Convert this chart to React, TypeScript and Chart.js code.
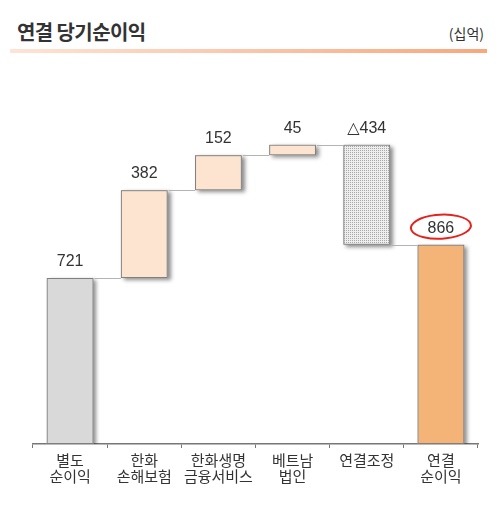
import React, { useEffect, useRef } from "react";
import { Chart, registerables } from "chart.js";

Chart.register(...registerables);

const categories: string[][] = [
  ["별도", "순이익"],
  ["한화", "손해보험"],
  ["한화생명", "금융서비스"],
  ["베트남", "법인"],
  ["연결조정"],
  ["연결", "순이익"],
];
const changes = [721, 382, 152, 45, -434, 866];
const isTotal = [false, false, false, false, false, true];
const valueLabels = ["721", "382", "152", "45", "△434", "866"];
const yMax = 1625;

function buildRanges(): [number, number][] {
  const out: [number, number][] = [];
  let running = 0;
  changes.forEach((c, i) => {
    if (isTotal[i]) {
      out.push([0, c]);
      running = c;
    } else {
      out.push([running, running + c]);
      running += c;
    }
  });
  return out;
}

export default function App() {
  const canvasRef = useRef<HTMLCanvasElement | null>(null);

  useEffect(() => {
    if (!canvasRef.current) return;
    const ranges = buildRanges();

    const pc = document.createElement("canvas");
    pc.width = 2;
    pc.height = 2;
    const pctx = pc.getContext("2d")!;
    pctx.fillStyle = "#eeeeee";
    pctx.fillRect(0, 0, 2, 2);
    pctx.fillStyle = "#a8a8a8";
    pctx.fillRect(0, 0, 1, 1);
    const pattern = canvasRef.current.getContext("2d")!.createPattern(pc, "repeat")!;

    const colors: (string | CanvasPattern)[] = [
      "#d9d9d9",
      "#fde4d0",
      "#fde4d0",
      "#fde4d0",
      pattern,
      "#f5b477",
    ];

    const waterfallPlugin = {
      id: "waterfall",
      beforeDatasetsDraw(chart: any) {
        const ctx = chart.ctx;
        const meta = chart.getDatasetMeta(0);
        const area = chart.chartArea;
        ctx.save();
        ctx.beginPath();
        ctx.rect(area.left, area.top - 50, area.right - area.left + 20, area.bottom - area.top + 50);
        ctx.clip();
        ctx.shadowColor = "rgba(0,0,0,0.45)";
        ctx.shadowBlur = 4;
        ctx.shadowOffsetX = 3;
        ctx.shadowOffsetY = 2;
        ctx.fillStyle = "#aaaaaa";
        meta.data.forEach((el: any) => {
          const top = Math.min(el.y, el.base);
          const h = Math.abs(el.base - el.y);
          ctx.fillRect(el.x - el.width / 2, top, el.width, h);
        });
        ctx.restore();
      },
      afterDatasetsDraw(chart: any) {
        const ctx = chart.ctx;
        const meta = chart.getDatasetMeta(0);
        const ys = chart.scales.y;
        ctx.save();
        ctx.strokeStyle = "#b3b3b3";
        ctx.lineWidth = 1;
        for (let i = 0; i < ranges.length - 1; i++) {
          const a = meta.data[i];
          const b = meta.data[i + 1];
          const py = Math.round(ys.getPixelForValue(ranges[i][1])) + 0.5;
          ctx.beginPath();
          ctx.moveTo(a.x + a.width / 2 + 1, py);
          ctx.lineTo(b.x - b.width / 2, py);
          ctx.stroke();
        }
        ctx.font = '16px "Liberation Sans", "DejaVu Sans", Arial, sans-serif';
        ctx.fillStyle = "#333333";
        ctx.textAlign = "center";
        ctx.textBaseline = "alphabetic";
        meta.data.forEach((el: any, i: number) => {
          const top = Math.min(el.y, el.base);
          ctx.fillText(valueLabels[i], el.x, top - 12);
          if (i === valueLabels.length - 1) {
            const cy = top - 18;
            ctx.strokeStyle = "#e5231d";
            ctx.lineWidth = 2;
            ctx.beginPath();
            ctx.ellipse(el.x, cy, 30, 12, -0.05, Math.PI * 0.7, Math.PI * 2.85);
            ctx.stroke();
          }
        });
        ctx.restore();
      },
    };

    const chart = new Chart(canvasRef.current, {
      type: "bar",
      data: {
        labels: categories,
        datasets: [
          {
            data: ranges as any,
            backgroundColor: colors as any,
            borderColor: "#7f7f7f",
            borderWidth: 1,
            borderSkipped: false,
            barPercentage: 0.63,
            categoryPercentage: 1,
          },
        ],
      },
      options: {
        animation: false,
        responsive: true,
        maintainAspectRatio: false,
        layout: { padding: { left: 33, right: 26, top: 10, bottom: 12 } },
        plugins: {
          legend: { display: false },
          tooltip: { enabled: false },
        },
        scales: {
          x: {
            offset: true,
            grid: {
              display: true,
              drawOnChartArea: false,
              drawTicks: true,
              tickLength: 4,
              color: "#777777",
              offset: true,
            },
            border: { display: true, color: "#777777", width: 1.5 },
            ticks: {
              color: "#333333",
              padding: 4,
              maxRotation: 0,
              autoSkip: false,
              font: { family: '"Noto Sans CJK KR", sans-serif', size: 15, lineHeight: 1.1 },
            },
            afterFit: (scale: any) => {
              scale.height = 60;
            },
          },
          y: {
            display: false,
            min: 0,
            max: yMax,
          },
        },
      },
      plugins: [waterfallPlugin],
    });
    return () => chart.destroy();
  }, []);

  return (
    <div style={{ position: "absolute", left: 0, top: 0, width: 504, height: 516, background: "#fff", overflow: "hidden" }}>
      <div
        style={{
          position: "absolute",
          left: 17,
          top: 22,
          fontFamily: '"Noto Sans CJK KR", sans-serif',
          fontSize: 20,
          lineHeight: "20px",
          fontWeight: 700,
          letterSpacing: -0.6,
          color: "#333333",
          whiteSpace: "nowrap",
        }}
      >
        연결 당기순이익
      </div>
      <div
        style={{
          position: "absolute",
          right: 20,
          top: 26,
          fontFamily: '"Noto Sans CJK KR", sans-serif',
          fontSize: 14,
          lineHeight: "14px",
          color: "#333333",
          whiteSpace: "nowrap",
        }}
      >
        (십억)
      </div>
      <div
        style={{
          position: "absolute",
          left: 10,
          top: 49,
          width: 477,
          height: 4,
          background: "linear-gradient(to right, #fde4d6, #f9a77c)",
        }}
      />
      <div style={{ position: "absolute", left: 0, top: 60, width: 504, height: 456 }}>
        <canvas ref={canvasRef} />
      </div>
    </div>
  );
}
